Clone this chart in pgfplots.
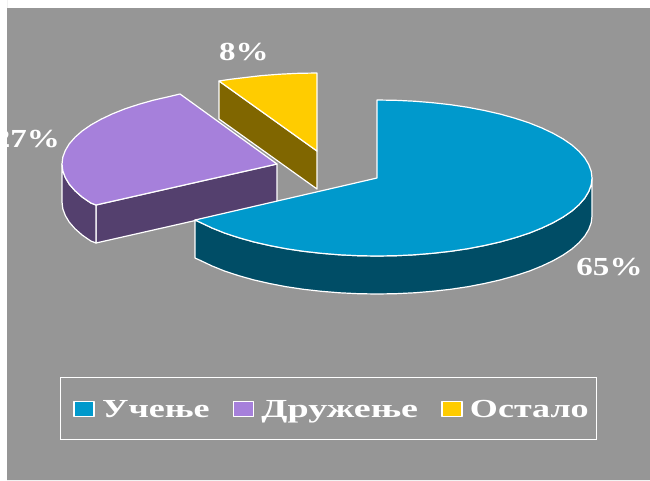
\documentclass[border=0pt]{standalone}
\usepackage{pgfplots}
\pgfplotsset{compat=1.18}
\usepackage{fontspec}
\setmainfont{Liberation Serif}
\definecolor{bgg}{HTML}{969696}
\definecolor{cblue}{HTML}{0099CC}
\definecolor{dblue}{HTML}{004D66}
\definecolor{cpur}{HTML}{A680DB}
\definecolor{dpur}{HTML}{54406E}
\definecolor{cyel}{HTML}{FFCC00}
\definecolor{dyel}{HTML}{806600}
\newcommand{\lab}[1]{\scalebox{1.27}[1]{\fontsize{26}{28}\selectfont\bfseries #1}}
\newcommand{\leg}[2]{\scalebox{#1}[1]{\fontsize{26}{28}\selectfont\bfseries\strut #2}}
\begin{document}
\begin{tikzpicture}
\path[use as bounding box] (0,0) rectangle (650pt,480pt);
\begin{axis}[
  at={(0,0)},anchor=south west,
  width=650pt,height=480pt,scale only axis,hide axis,
  xmin=0,xmax=650,ymin=0,ymax=480,y dir=reverse,clip=false,
  legend columns=3,
  legend style={at={(60/650,1-377/480)},anchor=north west,draw=white,line width=1.2pt,fill=none,
    text=white,inner xsep=6pt,inner ysep=18.5pt,
    /tikz/every even column/.append style={column sep=14.5pt}},
  every axis plot/.append style={line width=1.2pt,line join=round,draw=white},
]
\addlegendimage{legend image code/.code={\path[draw=none] (-7.5pt,0pt) -- (26pt,0pt);\draw[white,line width=1.2pt,fill=cblue] (0pt,-7.5pt) rectangle (20pt,7.5pt);}}\addlegendentry{\leg{1.385}{Учење}}
\addlegendimage{legend image code/.code={\path[draw=none] (-7.5pt,0pt) -- (26pt,0pt);\draw[white,line width=1.2pt,fill=cpur] (0pt,-7.5pt) rectangle (20pt,7.5pt);}}\addlegendentry{\leg{1.463}{Дружење}}
\addlegendimage{legend image code/.code={\path[draw=none] (-7.5pt,0pt) -- (26pt,0pt);\draw[white,line width=1.2pt,fill=cyel] (0pt,-7.5pt) rectangle (20pt,7.5pt);}}\addlegendentry{\leg{1.387}{Остало}}
% background
\addplot[draw=none,fill=bgg,forget plot] coordinates {(7,8)(650,8)(650,480)(7,480)} \closedcycle;
% yellow slice
\addplot[fill=dyel,forget plot] coordinates {(219,81)(317,151)(317,189)(219,119)} --cycle;
\addplot[fill=cyel,forget plot] coordinates {(317,151)(219,81)(231,79.2)(243.5,77.7)(261.5,75.6)(279.7,74.2)(298.3,73.3)(317,73)} --cycle;
% purple slice
\addplot[fill=dpur,forget plot] coordinates {(277,164)(96,205)(96,243)(277,202)} --cycle;
\addplot[fill=dpur,forget plot] coordinates {(96,205)(90.8,203)(82.1,197)(75,190.7)(69.3,184.2)(65.3,177.5)(62.8,170.8)(62,164)(62,202)(62.8,208.8)(65.3,215.5)(69.3,222.2)(75,228.7)(82.1,235)(90.8,241)(96,243)} --cycle;
\addplot[fill=cpur,forget plot] coordinates {(277,164)(96,205)(90.8,203)(82.1,197)(75,190.7)(69.3,184.2)(65.3,177.5)(62.8,170.8)(62,164)(62.8,157.2)(65.3,150.5)(69.3,143.8)(75,137.3)(82.1,131)(90.8,125)(100.9,119.3)(112.3,113.9)(125,108.8)(138.8,104.3)(153.7,100.1)(169.5,96.5)(180,94)} --cycle;
% blue slice
\addplot[fill=dblue,forget plot] coordinates {(592,178)(591.2,184.8)(588.7,191.5)(584.7,198.2)(579,204.7)(571.9,211)(563.2,217)(553.1,222.7)(541.7,228.1)(529,233.2)(515.2,237.7)(500.3,241.9)(484.5,245.5)(467.9,248.7)(450.5,251.3)(432.6,253.3)(414.3,254.8)(395.7,255.7)(377,256)(358.3,255.7)(339.7,254.8)(321.4,253.3)(303.5,251.3)(286.1,248.7)(269.5,245.5)(253.7,241.9)(238.8,237.7)(225,233.2)(212.3,228.1)(200.9,222.7)(195,220)(195,258)(200.9,260.7)(212.3,266.1)(225,271.2)(238.8,275.7)(253.7,279.9)(269.5,283.5)(286.1,286.7)(303.5,289.3)(321.4,291.3)(339.7,292.8)(358.3,293.7)(377,294)(395.7,293.7)(414.3,292.8)(432.6,291.3)(450.5,289.3)(467.9,286.7)(484.5,283.5)(500.3,279.9)(515.2,275.7)(529,271.2)(541.7,266.1)(553.1,260.7)(563.2,255)(571.9,249)(579,242.7)(584.7,236.2)(588.7,229.5)(591.2,222.8)(592,216)} --cycle;
\addplot[fill=cblue,forget plot] coordinates {(377,178)(377,100)(395.7,100.3)(414.3,101.2)(432.6,102.7)(450.5,104.7)(467.9,107.3)(484.5,110.5)(500.3,114.1)(515.2,118.3)(529,122.8)(541.7,127.9)(553.1,133.3)(563.2,139)(571.9,145)(579,151.3)(584.7,157.8)(588.7,164.5)(591.2,171.2)(592,178)(591.2,184.8)(588.7,191.5)(584.7,198.2)(579,204.7)(571.9,211)(563.2,217)(553.1,222.7)(541.7,228.1)(529,233.2)(515.2,237.7)(500.3,241.9)(484.5,245.5)(467.9,248.7)(450.5,251.3)(432.6,253.3)(414.3,254.8)(395.7,255.7)(377,256)(358.3,255.7)(339.7,254.8)(321.4,253.3)(303.5,251.3)(286.1,248.7)(269.5,245.5)(253.7,241.9)(238.8,237.7)(225,233.2)(212.3,228.1)(200.9,222.7)(195,220)} --cycle;
\node[text=white,overlay,inner sep=0pt] at (axis cs:244,52) {\lab{8\%}};
\node[text=white,overlay,inner sep=0pt] at (axis cs:27,139) {\lab{27\%}};
\node[text=white,overlay,inner sep=0pt] at (axis cs:609.5,267) {\lab{65\%}};
\end{axis}
\end{tikzpicture}
\end{document}
